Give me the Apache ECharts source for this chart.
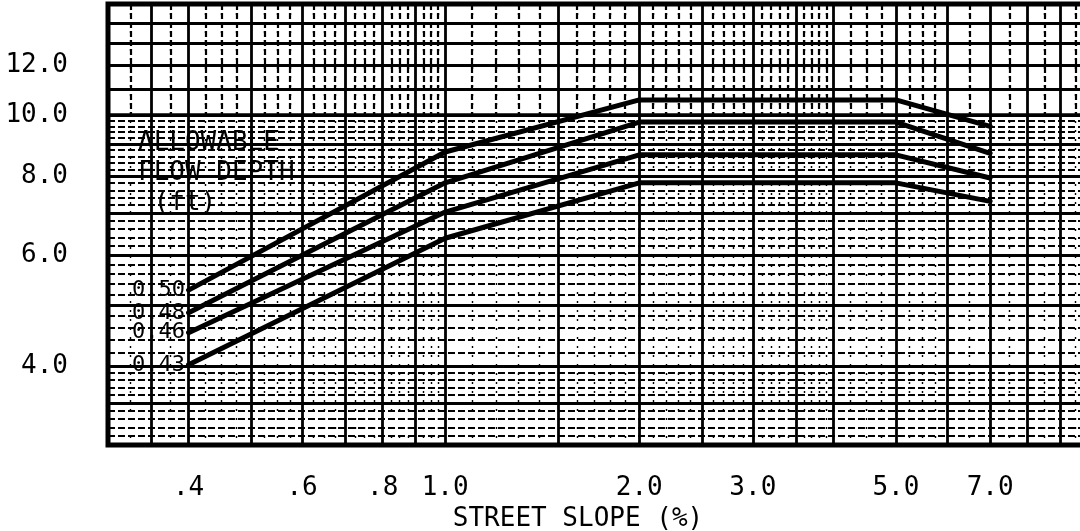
<!DOCTYPE html>
<html><head><meta charset="utf-8">
<script src="https://cdn.jsdelivr.net/npm/echarts@6/dist/echarts.min.js"></script>
<style>html,body{margin:0;padding:0;background:#fff}#c{width:1080px;height:531px}</style>
</head><body><div id="c"></div>
<script>
// ---- data ----
const slopeX = [0.4, 1.0, 2.0, 5.0, 7.0];
const depthNames = ['0.50', '0.48', '0.46', '0.43'];
const depth050 = [5.28, 8.74, 10.57, 10.57, 9.6];
const depth048 = [4.86, 7.81, 9.75, 9.75, 8.7];
const depth046 = [4.52, 7.02, 8.65, 8.65, 7.95];
const depth043 = [4.02, 6.38, 7.81, 7.81, 7.3];

const xTickValues = [0.4, 0.6, 0.8, 1, 2, 3, 5, 7];
const xTickLabels = ['.4', '.6', '.8', '1.0', '2.0', '3.0', '5.0', '7.0'];
const yTickValues = [4, 6, 8, 10, 12];
const yTickLabels = ['4.0', '6.0', '8.0', '10.0', '12.0'];

const xMajorGrid = [0.35, 0.4, 0.5, 0.6, 0.7, 0.8, 0.9, 1, 1.5, 2, 2.5, 3, 3.5, 4, 5, 6, 7, 8, 9];
const xMinorGrid = [0.325, 0.375, 0.425, 0.45, 0.475, 0.525, 0.55, 0.575, 0.625, 0.65, 0.675,
  0.725, 0.75, 0.775, 0.825, 0.85, 0.875, 0.925, 0.95, 0.975,
  1.1, 1.2, 1.3, 1.4, 1.6, 1.7, 1.8, 1.9, 2.1, 2.2, 2.3, 2.4, 2.6, 2.7, 2.8, 2.9,
  3.1, 3.2, 3.3, 3.4, 3.6, 3.7, 3.8, 3.9, 4.25, 4.5, 4.75, 5.25, 5.5, 5.75, 6.5, 7.5, 8.5, 9.5];
const yMajorGrid = [3.5, 4, 5, 6, 7, 8, 9, 10, 11, 12, 13, 14];
const yMinorGrid = [3.1, 3.2, 3.3, 3.4, 3.6, 3.7, 3.8, 3.9, 4.2, 4.4, 4.6, 4.8, 5.2, 5.4, 5.6, 5.8,
  6.2, 6.4, 6.6, 6.8, 7.2, 7.4, 7.6, 7.8, 8.2, 8.4, 8.6, 8.8, 9.2, 9.4, 9.6, 9.8];

const MONO = 'DejaVu Sans Mono';
const INK = '#000';

function pick(values, labels, v) {
  for (let i = 0; i < values.length; i++) if (Math.abs(values[i] - v) < 1e-6) return labels[i];
  return '';
}

function curve(name, ys) {
  return {
    type: 'line', name: name, xAxisIndex: 0, yAxisIndex: 0,
    symbol: 'circle', symbolSize: 1, showSymbol: true, silent: true, z: 5,
    itemStyle: { color: INK },
    lineStyle: { color: INK, width: 5, cap: 'round', join: 'round' },
    label: { show: false },
    data: slopeX.map(function (x, i) {
      if (i === 0) {
        return { value: [x, ys[i]], label: { show: true, position: 'left', distance: 3,
          formatter: name, fontFamily: MONO, fontSize: 22, color: INK } };
      }
      return [x, ys[i]];
    })
  };
}

const chart = echarts.init(document.getElementById('c'), null, { renderer: 'canvas' });
const hidden = { show: false };
chart.setOption({
  animation: false,
  backgroundColor: '#fff',
  title: [{
    text: 'ALLOWABLE\nFLOW DEPTH\n (ft)', left: 138, top: 128, padding: 0,
    textStyle: { fontFamily: MONO, fontSize: 26, fontWeight: 'normal', color: INK, lineHeight: 30 }
  }],
  grid: [
    { left: 108, right: -10, top: 4, bottom: 86, show: true, borderColor: INK, borderWidth: 5,
      backgroundColor: 'transparent', outerBoundsMode: 'none', containLabel: false },
    { left: 108, right: -10, top: 4, height: 111, show: true, borderColor: INK, borderWidth: 3.5,
      backgroundColor: 'transparent', outerBoundsMode: 'none', containLabel: false }
  ],
  xAxis: [
    { type: 'log', gridIndex: 0, min: 0.3, max: 10, position: 'bottom',
      axisLine: hidden, axisTick: { show: false, customValues: xMajorGrid },
      axisLabel: { show: true, customValues: xTickValues, margin: 30, fontFamily: MONO, fontSize: 26, color: INK,
        formatter: function (v) { return pick(xTickValues, xTickLabels, v); } },
      splitLine: { show: true, lineStyle: { color: INK, width: 2.8 } },
      name: 'STREET SLOPE (%)', nameLocation: 'middle', nameGap: 58,
      nameTextStyle: { fontFamily: MONO, fontSize: 26, color: INK, padding: [0, 42, 0, 0] } },
    { type: 'log', gridIndex: 0, min: 0.3, max: 10, position: 'bottom',
      axisLine: hidden, axisLabel: hidden, axisTick: { show: false, customValues: xMinorGrid },
      splitLine: { show: true, lineStyle: { color: INK, width: 1.4, type: [2, 7] } } },
    { type: 'log', gridIndex: 1, min: 0.3, max: 10, position: 'bottom',
      axisLine: hidden, axisLabel: hidden, axisTick: { show: false, customValues: xMinorGrid },
      splitLine: { show: true, lineStyle: { color: INK, width: 2.2, type: [6, 3] } } }
  ],
  yAxis: [
    { type: 'log', gridIndex: 0, min: 3, max: 15, position: 'left',
      axisLine: hidden, axisTick: { show: false, customValues: yMajorGrid },
      axisLabel: { show: true, customValues: yTickValues, margin: 40, fontFamily: MONO, fontSize: 26, color: INK,
        padding: [0, 0, 6, 0],
        formatter: function (v) { return pick(yTickValues, yTickLabels, v); } },
      splitLine: { show: true, lineStyle: { color: INK, width: 2.8 } } },
    { type: 'log', gridIndex: 0, min: 3, max: 15,
      axisLine: hidden, axisLabel: hidden, axisTick: { show: false, customValues: yMinorGrid },
      splitLine: { show: true, lineStyle: { color: INK, width: 2, type: [7, 3] } } },
    { type: 'log', gridIndex: 1, min: 10, max: 15,
      axisLine: hidden, axisLabel: hidden, axisTick: hidden, splitLine: hidden }
  ],
  series: [
    curve(depthNames[0], depth050),
    curve(depthNames[1], depth048),
    curve(depthNames[2], depth046),
    curve(depthNames[3], depth043)
  ]
});
</script>
</body></html>
